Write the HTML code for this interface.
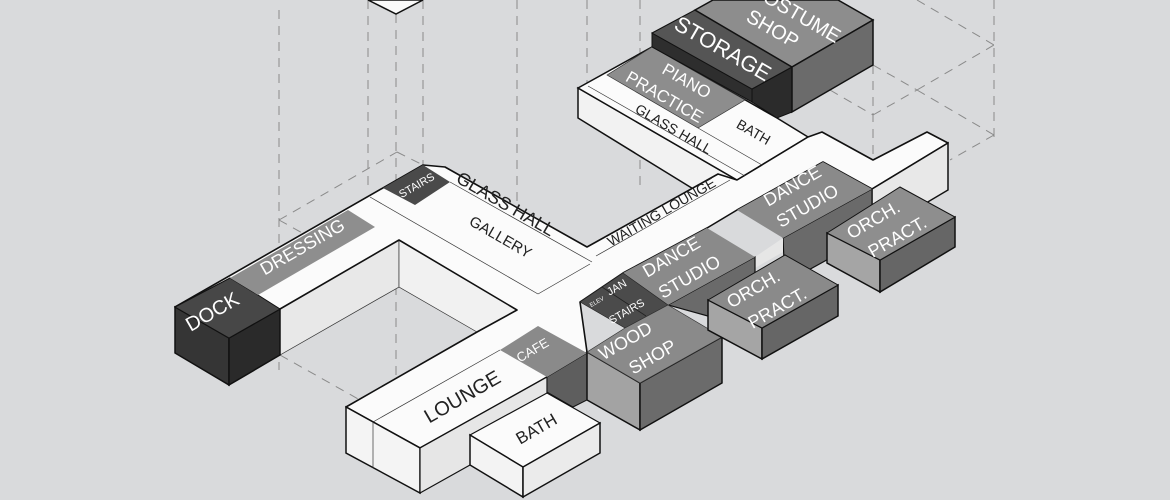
<!DOCTYPE html>
<html><head><meta charset="utf-8"><style>
html,body{margin:0;padding:0;background:#d9dadc}
svg{display:block}
text{font-family:"Liberation Sans Narrow","Liberation Sans",sans-serif;text-anchor:middle;dominant-baseline:middle}
.w{fill:#fff}.k{fill:#222}
</style></head><body>
<svg width="1170" height="500" viewBox="0 0 1170 500" xmlns="http://www.w3.org/2000/svg">
<rect width="1170" height="500" fill="#d9dadc"/>
<g stroke="#8a8a8a" stroke-width="1" stroke-dasharray="9 7" fill="none">
<line x1="279" y1="10" x2="279" y2="370"/>
<line x1="368" y1="0" x2="368" y2="190"/>
<line x1="396" y1="14" x2="396" y2="420"/>
<line x1="423" y1="0" x2="423" y2="165"/>
<line x1="517" y1="0" x2="517" y2="310"/>
<line x1="587" y1="0" x2="587" y2="90"/>
<line x1="640" y1="0" x2="640" y2="185"/>
<line x1="873" y1="65" x2="873" y2="165"/>
<line x1="994" y1="0" x2="994" y2="140"/>
<line x1="279" y1="220" x2="397" y2="152"/>
<line x1="397" y1="152" x2="423" y2="165"/>
<line x1="279" y1="220" x2="360" y2="265"/>
<line x1="280" y1="355" x2="360" y2="400"/>
<line x1="917" y1="0" x2="994" y2="45"/>
<line x1="917" y1="90" x2="994" y2="45"/>
<line x1="917" y1="90" x2="994" y2="135"/>
<line x1="873" y1="65" x2="917" y2="90"/>
<line x1="873" y1="115" x2="917" y2="90"/>
<line x1="830" y1="90" x2="873" y2="115"/>
<line x1="994" y1="135" x2="950" y2="160"/>
</g>
<polygon points="368,0 396,14 423,0" fill="#fafafa" stroke="#111" stroke-width="1.5"/>
<polygon points="280,309 399,240 399,287 280,355" fill="#e8e8e8" stroke="#333" stroke-width="0.7"/>
<polygon points="399,240 517,310 477,332 399,287" fill="#f1f1f1" stroke="#333" stroke-width="0.7"/>
<!-- north block -->
<polygon points="578,88 737,180 720,190 695,190 578,118" fill="#f2f2f2" stroke="#111" stroke-width="1.5"/>
<polygon points="578,88 652,47 777,118 808,137 737,180" fill="#fbfbfb" stroke="#111" stroke-width="1.5"/>
<polygon points="175,307 423,165 445,167 587,247 718,174 737,180 808,137 822,132 873,160 927,132 948,143 872,189 823,162 737,210 707,228 623,273 580,302 587,352 547,377 420,448 346,407 477,332 517,310 399,240 280,309 229,338" fill="#fbfbfb" stroke="#111" stroke-width="1.6" stroke-linejoin="round"/>
<g stroke="#333" stroke-width="0.7" fill="none">
<line x1="370" y1="197" x2="538" y2="294"/>
<line x1="538" y1="294" x2="590" y2="264"/>
<line x1="450" y1="182" x2="592" y2="262"/>
<line x1="373" y1="422" x2="500" y2="350"/>
<line x1="596" y1="256" x2="730" y2="180"/>
<line x1="588" y1="86" x2="745" y2="176"/>
<line x1="698" y1="128" x2="762" y2="165"/>
</g>
<polygon points="607,75 652,47 745,100 698,128" fill="#8d8d8d" stroke="#333" stroke-width="0.7"/>
<polygon points="652,33 752,89 752,102 652,47" fill="#2e2e2e" stroke="#111" stroke-width="1"/>
<polygon points="752,89 792,67 792,112 777,118 752,102" fill="#2b2b2b" stroke="#111" stroke-width="1"/>
<polygon points="652,33 695,10 792,67 752,89" fill="#555" stroke="#111" stroke-width="1"/>
<polygon points="695,10 713,0 838,0 873,20 792,67" fill="#8d8d8d" stroke="#111" stroke-width="1.5"/>
<polygon points="792,67 873,20 873,65 792,112" fill="#6b6b6b" stroke="#111" stroke-width="1.5"/>
<polygon points="175,307 229,338 229,385 175,353" fill="#353535" stroke="#111" stroke-width="1.5"/>
<polygon points="229,338 280,309 280,355 229,385" fill="#2a2a2a" stroke="#111" stroke-width="1.5"/>
<polygon points="175,307 230,278 258,295 280,309 229,338" fill="#474747" stroke="#111" stroke-width="1"/>
<polygon points="230,278 348,210 375,227 258,295" fill="#8e8e8e"/>
<polygon points="383,188 423,165 450,182 415,205" fill="#4a4a4a"/>
<polygon points="346,407 420,448 420,493 346,453" fill="#f4f4f4" stroke="#111" stroke-width="1.5"/>
<line x1="373" y1="422" x2="373" y2="468" stroke="#333" stroke-width="0.7"/>
<polygon points="420,448 547,377 547,420 470,465 420,493" fill="#e6e6e6" stroke="#111" stroke-width="1.2"/>
<polygon points="470,435 547,393 600,423 523,467" fill="#fbfbfb" stroke="#111" stroke-width="1.2"/>
<polygon points="470,435 523,467 523,497 470,465" fill="#f3f3f3" stroke="#111" stroke-width="1.5"/>
<polygon points="523,467 600,423 600,453 523,497" fill="#ebebeb" stroke="#111" stroke-width="1.5"/>
<polygon points="547,377 587,353 587,400 573,407 547,392" fill="#5e5e5e" stroke="#111" stroke-width="1"/>
<polygon points="500,350 538,326 587,353 547,377" fill="#8a8a8a"/>
<polygon points="872,189 948,143 948,190 872,235" fill="#e8e8e8" stroke="#111" stroke-width="1.5"/>
<polygon points="783,238 872,189 872,235 785,283" fill="#6a6a6a" stroke="#111" stroke-width="1.2"/>
<polygon points="737,210 823,162 872,189 783,238" fill="#8a8a8a"/>
<polygon points="755,257 783,238 783,252 755,268" fill="#e6e6e6"/>
<polygon points="668,305 755,257 755,300 722,320" fill="#6a6a6a" stroke="#111" stroke-width="1.2"/>
<polygon points="623,273 707,228 755,257 668,305" fill="#8a8a8a"/>
<polygon points="580,302 623,273 668,305 625,328" fill="#4b4b4b" stroke="#222" stroke-width="0.6"/>
<line x1="602" y1="287" x2="646" y2="316" stroke="#222" stroke-width="0.8"/>
<polygon points="587,352 640,383 640,430 587,400" fill="#a3a3a3" stroke="#111" stroke-width="1.5"/>
<polygon points="640,383 722,337 722,383 640,430" fill="#6b6b6b" stroke="#111" stroke-width="1.5"/>
<polygon points="587,352 625,328 668,305 722,337 640,383" fill="#8a8a8a" stroke="#333" stroke-width="0.7"/>
<polygon points="827,233 880,260 880,292 827,263" fill="#a5a5a5" stroke="#111" stroke-width="1.5"/>
<polygon points="880,260 955,217 955,247 880,292" fill="#666" stroke="#111" stroke-width="1.5"/>
<polygon points="827,233 900,187 955,217 880,260" fill="#8e8e8e" stroke="#111" stroke-width="1"/>
<polygon points="708,300 762,328 762,359 708,330" fill="#a5a5a5" stroke="#111" stroke-width="1.5"/>
<polygon points="762,328 838,285 838,316 762,359" fill="#666" stroke="#111" stroke-width="1.5"/>
<polygon points="708,300 785,255 838,285 762,328" fill="#8a8a8a" stroke="#111" stroke-width="1"/>
<g font-size="20">
<text class="w" transform="translate(213,313) rotate(-30)">DOCK</text>
<text class="w" font-size="18" transform="translate(303,248) rotate(-30)">DRESSING</text>
<text class="w" font-size="11" transform="translate(417,186) rotate(-30)">STAIRS</text>
<text class="k" font-size="18" transform="translate(505,205) rotate(30)">GLASS HALL</text>
<text class="k" font-size="15" transform="translate(500,238) rotate(30)">GALLERY</text>
<text class="k" font-size="14" transform="translate(662,213) rotate(-30)">WAITING LOUNGE</text>
<text class="k" font-size="14" transform="translate(673,130) rotate(30)">GLASS HALL</text>
<text class="k" font-size="14" transform="translate(753,133) rotate(30)">BATH</text>
<text class="w" font-size="17" transform="translate(686,82) rotate(30)">PIANO</text>
<text class="w" font-size="17" transform="translate(664,98) rotate(30)">PRACTICE</text>
<text class="w" font-size="22" transform="translate(722,50) rotate(30)">STORAGE</text>
<text class="w" font-size="20" transform="translate(795,14) rotate(30)">COSTUME</text>
<text class="w" font-size="20" transform="translate(772,30) rotate(30)">SHOP</text>
<text class="w" font-size="18" transform="translate(793,187) rotate(-30)">DANCE</text>
<text class="w" font-size="18" transform="translate(808,207) rotate(-30)">STUDIO</text>
<text class="w" font-size="18" transform="translate(874,221) rotate(-30)">ORCH.</text>
<text class="w" font-size="18" transform="translate(898,238) rotate(-30)">PRACT.</text>
<text class="w" font-size="18" transform="translate(672,258) rotate(-30)">DANCE</text>
<text class="w" font-size="18" transform="translate(690,278) rotate(-30)">STUDIO</text>
<text class="w" font-size="18" transform="translate(754,290) rotate(-30)">ORCH.</text>
<text class="w" font-size="18" transform="translate(778,309) rotate(-30)">PRACT.</text>
<text class="w" font-size="18" transform="translate(626,342) rotate(-30)">WOOD</text>
<text class="w" font-size="18" transform="translate(653,358) rotate(-30)">SHOP</text>
<text class="w" font-size="13" transform="translate(533,351) rotate(-30)">CAFE</text>
<text class="w" font-size="11" transform="translate(617,288) rotate(-30)">JAN</text>
<text class="w" font-size="6" transform="translate(597,302) rotate(-30)">ELEV</text>
<text class="w" font-size="11" transform="translate(627,312) rotate(-30)">STAIRS</text>
<text class="k" font-size="20" transform="translate(463,398) rotate(-30)">LOUNGE</text>
<text class="k" font-size="17" transform="translate(537,430) rotate(-30)">BATH</text>
</g>
</svg>
</body></html>
